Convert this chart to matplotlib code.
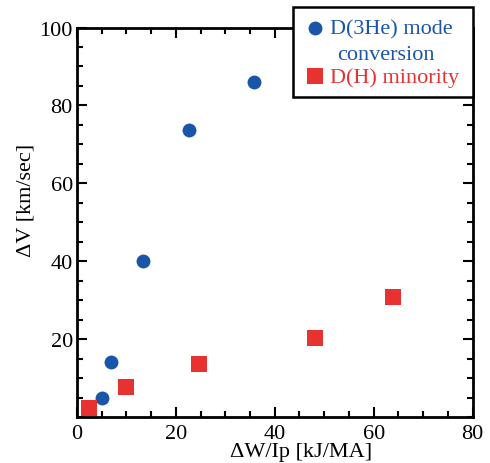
import matplotlib
matplotlib.use("Agg")
import matplotlib.pyplot as plt
from matplotlib.ticker import MultipleLocator
from matplotlib.patches import Rectangle
from matplotlib.lines import Line2D

plt.rcParams['font.family'] = ['Liberation Serif', 'DejaVu Serif']

he3_x = [5.1, 6.8, 13.3, 22.6, 35.9]
he3_y = [4.9, 14.0, 40.0, 73.6, 85.9]
h_x = [2.5, 9.9, 24.7, 48.1, 63.9]
h_y = [2.3, 7.7, 13.6, 20.2, 30.8]
legend_labels = ['D(3He) mode', 'conversion', 'D(H) minority']

blue = '#1a56a8'
red = '#e83232'
W, H = 490, 464

def fx(px):
    return px / W

def fy(py):
    return 1 - py / H

fig = plt.figure(figsize=(4.9, 4.64), dpi=100)
ax = fig.add_axes([fx(77), fy(418), (472.5 - 77) / W, (418 - 28.5) / H])

ax.plot(he3_x, he3_y, 'o', color=blue, markersize=10, markeredgewidth=0,
        clip_on=False, zorder=3)
ax.plot(h_x, h_y, 's', color=red, markersize=11, markeredgewidth=0,
        clip_on=False, zorder=3)

ax.set_xlim(0, 80)
ax.set_ylim(0, 100)
ax.xaxis.set_major_locator(MultipleLocator(20))
ax.xaxis.set_minor_locator(MultipleLocator(5))
ax.set_yticks([20, 40, 60, 80, 100])
ax.yaxis.set_minor_locator(MultipleLocator(5))
ax.tick_params(which='both', direction='in', top=True, right=True, width=1.5,
               labelsize=16)
ax.tick_params(axis='x', pad=5)
ax.tick_params(axis='y', pad=3)
ax.tick_params(which='major', length=7)
ax.tick_params(which='minor', length=4)
for s in ax.spines.values():
    s.set_linewidth(2)

# axis labels placed as in the reference
fig.text(fx(301), fy(453), 'ΔW/Ip [kJ/MA]', fontsize=16, ha='center', va='center')
fig.text(fx(26.5), fy(200.5), 'ΔV [km/sec]', fontsize=16, ha='center',
         va='center', rotation=90)

# legend box drawn manually
fig.patches.append(Rectangle((fx(293), fy(98)), (473 - 293) / W, (98 - 8) / H,
                             transform=fig.transFigure, facecolor='white',
                             edgecolor='black', linewidth=1.8, zorder=5))
fig.lines.append(Line2D([fx(315)], [fy(29)], marker='o', color=blue,
                        markersize=10, markeredgewidth=0,
                        transform=fig.transFigure, zorder=6))
fig.lines.append(Line2D([fx(315)], [fy(77)], marker='s', color=red,
                        markersize=11, markeredgewidth=0,
                        transform=fig.transFigure, zorder=6))
fig.text(fx(330), fy(30), legend_labels[0], color=blue, fontsize=16,
         ha='left', va='center', zorder=6)
fig.text(fx(386), fy(55), legend_labels[1], color=blue, fontsize=16,
         ha='center', va='center', zorder=6)
fig.text(fx(330), fy(78), legend_labels[2], color=red, fontsize=16,
         ha='left', va='center', zorder=6)

fig.savefig('out.png', dpi=100)
